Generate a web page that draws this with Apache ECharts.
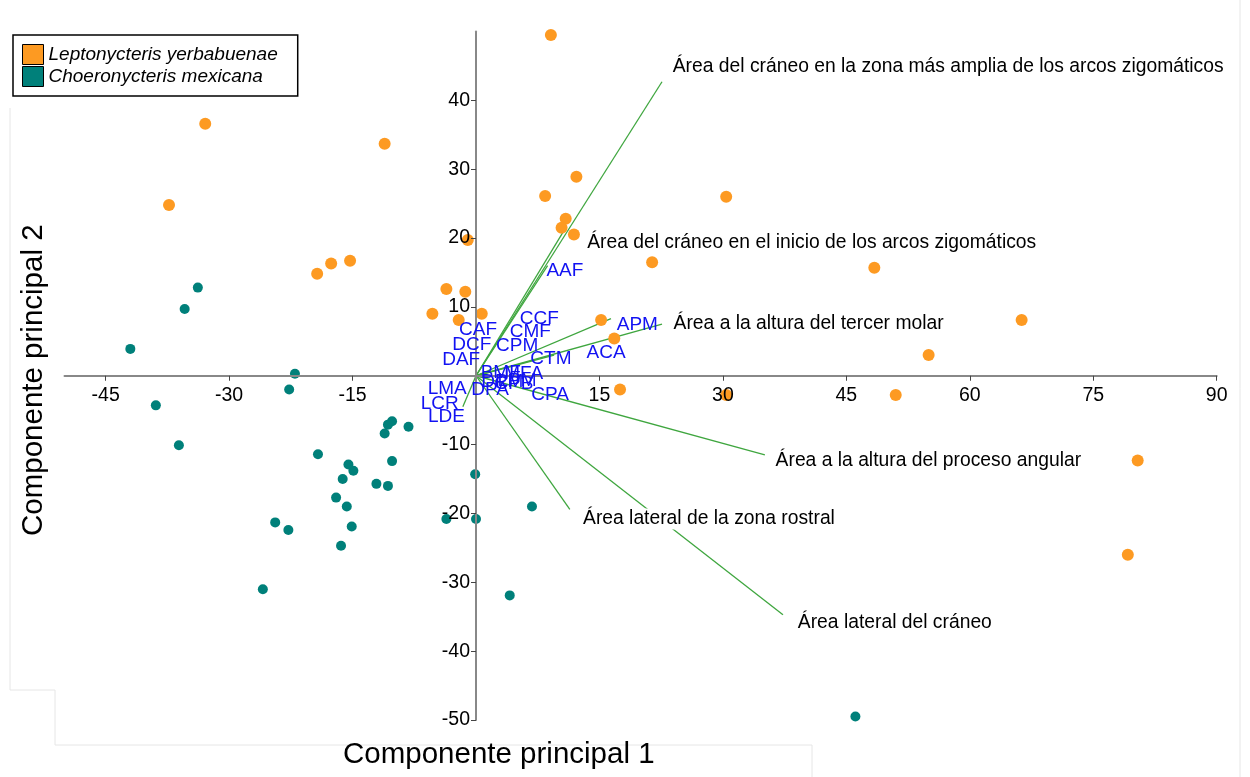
<!DOCTYPE html>
<html>
<head>
<meta charset="utf-8">
<script src="https://cdn.jsdelivr.net/npm/echarts@6/dist/echarts.min.js"></script>
<style>
html,body{margin:0;padding:0;background:#fff;}
#chart{width:1250px;height:777px;}
</style>
</head>
<body>
<div id="chart"></div>
<script>
// ---- Data ----
const seriesNames = ['Leptonycteris yerbabuenae', 'Choeronycteris mexicana'];

const leptoX = [9.1, -32.9, -11.1, -37.3, 8.4, 12.2, 30.4, 10.9, 10.4, 11.9, -1.0, 21.4, 48.4, -19.3, -17.6, -15.3, -3.6, -1.3, -5.3, -2.1, 0.7, 15.2, 16.8, 66.3, 55.0, 17.5, 30.4, 51.0, 80.4, 79.2];
const leptoY = [49.5, 36.6, 33.7, 24.8, 26.1, 28.9, 26.0, 22.8, 21.5, 20.5, 19.7, 16.5, 15.7, 14.8, 16.3, 16.7, 12.6, 12.2, 9.0, 8.1, 9.0, 8.1, 5.4, 8.1, 3.0, -2.0, -2.8, -2.8, -12.3, -26.0];

const choeroX = [-42.0, -33.8, -35.4, -22.0, -22.7, -38.9, -36.1, -19.2, -15.5, -14.9, -16.2, -17.0, -15.7, -15.1, -16.4, -24.4, -22.8, -25.9, -12.1, -10.7, -10.2, -11.1, -10.7, -10.2, -8.2, -3.6, -0.1, 0.0, 6.8, 4.1, 46.1];
const choeroY = [3.9, 12.8, 9.7, 0.3, -2.0, -4.3, -10.1, -11.4, -12.9, -13.8, -15.0, -17.7, -19.0, -21.9, -24.7, -21.3, -22.4, -31.0, -15.7, -16.0, -12.4, -8.4, -7.1, -6.6, -7.4, -20.8, -14.3, -20.8, -19.0, -31.9, -49.5];

// Loading vectors (end points) for the named variables
const vectorNames = [
  'Área del cráneo en la zona más amplia de los arcos zigomáticos',
  'Área del cráneo en el inicio de los arcos zigomáticos',
  'Área a la altura del tercer molar',
  'Área a la altura del proceso angular',
  'Área lateral de la zona rostral',
  'Área lateral del cráneo'
];
const vectorX = [22.6, 11.0, 22.6, 35.1, 11.4, 37.3];
const vectorY = [42.7, 21.7, 7.5, -11.5, -19.4, -34.7];
const vectorLabelX = [23.6, 13.2, 23.7, 36.1, 12.7, 38.8];
const vectorLabelY = [44.9, 19.4, 7.5, -12.3, -20.8, -35.8];

// Loading vectors for abbreviated variables
const abbrVectorX = [16.4, 8.7, 9.5, -1.6];
const abbrVectorY = [8.3, 16.0, 3.0, -4.5];

// Abbreviated variable labels
const abbrNames = ['AAF', 'CCF', 'CMF', 'CAF', 'DCF', 'CPM', 'DAF', 'CTM', 'APM', 'ACA', 'CPA', 'DPA', 'LMA', 'LCR', 'LDE', 'BMF', 'MFA', 'DPM', 'CPB', 'LPM'];
const abbrX = [10.8, 7.7, 6.6, 0.25, -0.5, 5.0, -1.8, 9.1, 19.6, 15.8, 9.0, 1.7, -3.5, -4.4, -3.6, 3.0, 5.8, 3.2, 4.6, 5.0];
const abbrY = [15.2, 8.3, 6.4, 6.7, 4.5, 4.4, 2.3, 2.5, 7.4, 3.3, -2.8, -2.0, -1.9, -4.1, -6.0, 0.5, 0.3, -0.9, -1.1, -0.8];

// Tick labels
const xTicks = [-45, -30, -15, 15, 30, 45, 60, 75, 90];
const yTicks = [-50, -40, -30, -20, -10, 10, 20, 30, 40];

// ---- Build ----
const zip = (a, b) => a.map((v, i) => [v, b[i]]);
const FONT = 'Liberation Sans, Arial, Helvetica, sans-serif';
const ORANGE = '#FD9A22';
const TEAL = '#00807A';
const GREEN = '#3FA63F';
const FAINT = '#e6e6e6';

const W = 1250, H = 777;
const G = { left: 64.5, right: 33.3, top: 31.5, bottom: 57 };
const X_MIN = -50, X_MAX = 90, Y_MIN = -50, Y_MAX = 50;
const gw = W - G.left - G.right, gh = H - G.top - G.bottom;
// distance from grid edge to the zero lines (axes cross at origin)
const xAxisOffset = -(gh * (0 - Y_MIN) / (Y_MAX - Y_MIN));
const yAxisOffset = -(gw * (0 - X_MIN) / (X_MAX - X_MIN));

const vecLines = vectorX.map((x, i) => ({ coords: [[0, 0], [x, vectorY[i]]] }))
  .concat(abbrVectorX.map((x, i) => ({ coords: [[0, 0], [x, abbrVectorY[i]]] })));

const faintLine = (x1, y1, x2, y2) => ({ type: 'line', silent: true, z: -10, shape: { x1, y1, x2, y2 }, style: { stroke: FAINT, lineWidth: 1 } });

const chart = echarts.init(document.getElementById('chart'), null, { renderer: 'canvas' });
chart.setOption({
  animation: false,
  backgroundColor: '#fff',
  grid: { left: G.left, right: G.right, top: G.top, bottom: G.bottom, containLabel: false },
  legend: {
    data: seriesNames,
    orient: 'vertical',
    left: 13, top: 35,
    padding: [9, 20, 9, 9],
    itemWidth: 21, itemHeight: 20, itemGap: 1,
    borderColor: '#000', borderWidth: 1.5, borderRadius: 0,
    backgroundColor: '#fff',
    icon: 'rect',
    itemStyle: { borderColor: '#000', borderWidth: 1, opacity: 1 },
    textStyle: { fontFamily: FONT, fontSize: 19, fontStyle: 'italic', color: '#000' },
    selectedMode: false
  },
  xAxis: {
    type: 'value', min: X_MIN, max: X_MAX, position: 'bottom', z: 5,
    offset: xAxisOffset,
    axisLine: { onZero: false, lineStyle: { color: '#888', width: 2 } },
    axisTick: { show: true, length: 5, customValues: xTicks, lineStyle: { color: '#444', width: 1 } },
    axisLabel: { customValues: xTicks, color: '#000', fontFamily: FONT, fontSize: 19.5, margin: 10 },
    splitLine: { show: false }
  },
  yAxis: {
    type: 'value', min: Y_MIN, max: Y_MAX, position: 'left', z: 5,
    offset: yAxisOffset,
    axisLine: { onZero: false, lineStyle: { color: '#888', width: 2 } },
    axisTick: { show: true, length: 5, customValues: yTicks, lineStyle: { color: '#444', width: 1 } },
    axisLabel: { customValues: yTicks, color: '#000', fontFamily: FONT, fontSize: 19.5, margin: 6 },
    splitLine: { show: false }
  },
  graphic: [
    faintLine(10, 108, 10, 690),
    faintLine(10, 690, 55, 690),
    faintLine(55, 690, 55, 745),
    faintLine(55, 745, 812, 745),
    faintLine(812, 745, 812, 777),
    faintLine(1240, 0, 1240, 777),
    { type: 'text', left: 343, top: 740, style: { text: 'Componente principal 1', fontFamily: FONT, fontSize: 29.5, fill: '#000' } },
    { type: 'text', x: 19, y: 536, rotation: Math.PI / 2, style: { text: 'Componente principal 2', fontFamily: FONT, fontSize: 29.5, fill: '#000' } }
  ],
  series: [
    {
      name: 'vectors', type: 'lines', coordinateSystem: 'cartesian2d', z: 3,
      silent: true,
      lineStyle: { color: GREEN, width: 1.3, opacity: 1 },
      data: vecLines
    },
    {
      name: seriesNames[0], type: 'scatter', z: 4,
      symbolSize: 12,
      itemStyle: { color: ORANGE, opacity: 1 },
      data: zip(leptoX, leptoY)
    },
    {
      name: seriesNames[1], type: 'scatter', z: 4,
      symbolSize: 10,
      itemStyle: { color: TEAL, opacity: 1 },
      data: zip(choeroX, choeroY)
    },
    {
      name: 'abbr', type: 'scatter', z: 6, silent: true,
      symbolSize: 1, itemStyle: { color: 'rgba(0,0,0,0)', opacity: 1 },
      label: { show: true, position: 'inside', formatter: p => p.name, color: '#1212F2', fontFamily: FONT, fontSize: 19 },
      data: abbrNames.map((n, i) => ({ name: n, value: [abbrX[i], abbrY[i]] }))
    },
    {
      name: 'vecLabels', type: 'scatter', z: 7, silent: true,
      symbolSize: 1, itemStyle: { color: 'rgba(0,0,0,0)', opacity: 1 },
      label: { show: true, position: 'right', distance: 0, formatter: p => p.name, color: '#000', fontFamily: FONT, fontSize: 19.3, backgroundColor: '#fff', padding: [1, 2, 1, 2] },
      data: vectorNames.map((n, i) => ({ name: n, value: [vectorLabelX[i], vectorLabelY[i]] }))
    }
  ]
});
</script>
</body>
</html>
